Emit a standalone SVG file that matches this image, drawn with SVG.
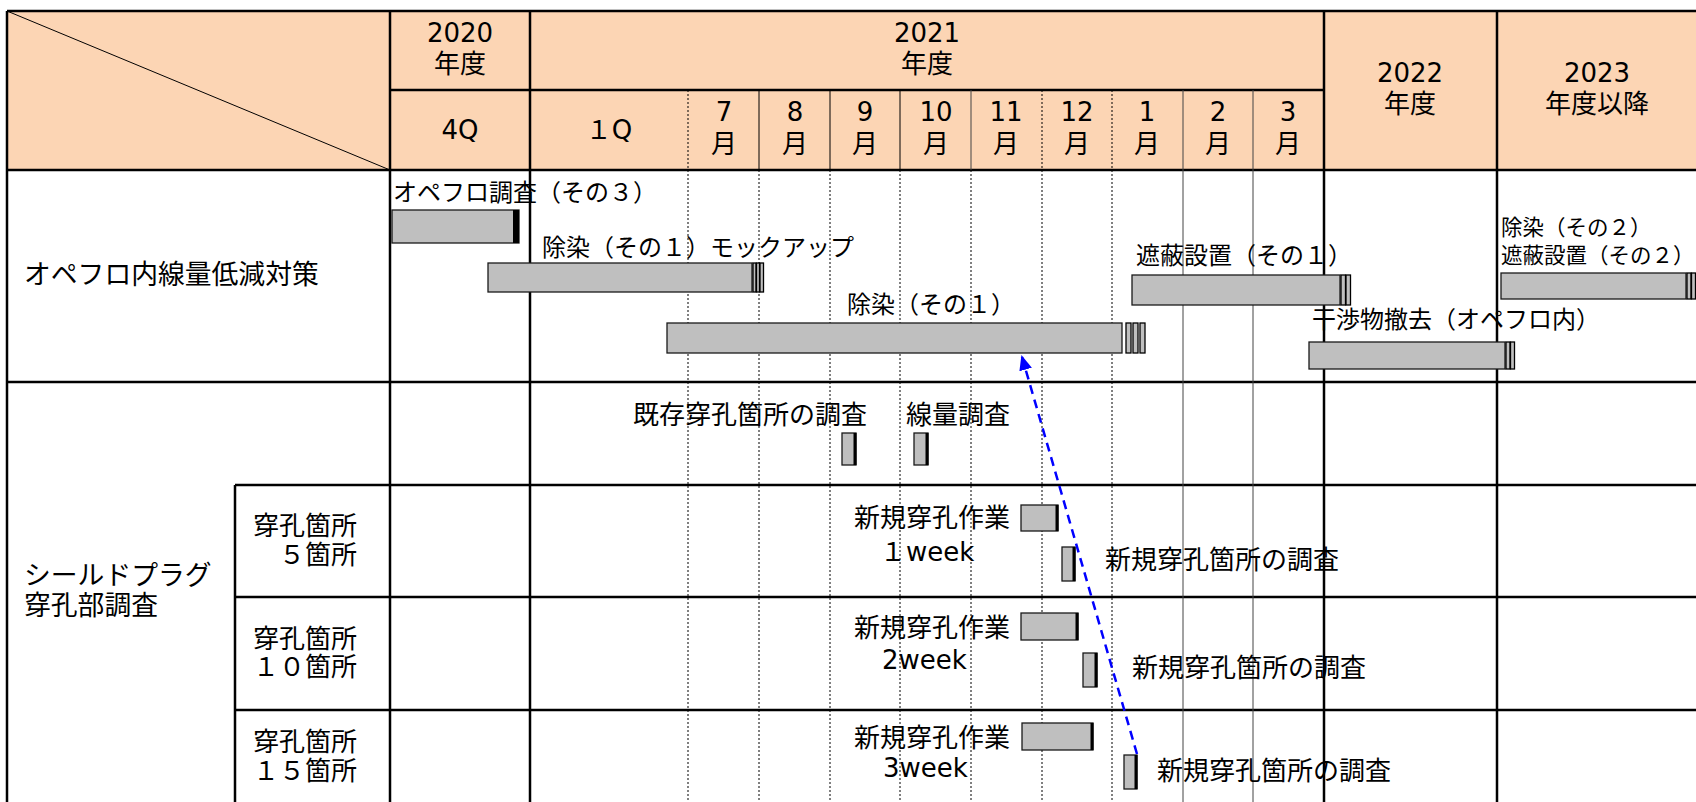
<svg xmlns="http://www.w3.org/2000/svg" width="1696" height="802" viewBox="0 0 1696 802">
<defs>
<style>
text { font-family: "DejaVu Sans", "Noto Sans CJK JP", sans-serif; fill: #000; dominant-baseline: central; }
.t22 { font-size: 21.5px; }
.t24 { font-size: 24px; }
.t26 { font-size: 26px; }
.t27 { font-size: 26.8px; }
.mid { text-anchor: middle; }
.thick { stroke: #000; stroke-width: 2.5; fill: none; }
.thin { stroke: #000; stroke-width: 1; fill: none; }
.gray { stroke: #444; stroke-width: 1; fill: none; }
.dot { stroke: #000; stroke-width: 1; stroke-dasharray: 2 2; fill: none; }
.bar { fill: #BFBFBF; stroke: #1a1a1a; stroke-width: 1.3; }
.cap { fill: #000; }
.stripe { fill: #BFBFBF; stroke: #000; stroke-width: 1.3; }
.edge { stroke: #000; stroke-width: 3; }
.conn { stroke: #0000FF; stroke-width: 2.5; stroke-dasharray: 9 6; fill: none; }
</style>
<marker id="ah" markerWidth="15" markerHeight="13" refX="13" refY="6.5" orient="auto" markerUnits="userSpaceOnUse">
<path d="M0,0 L15,6.5 L0,13 z" fill="#0000FF"/>
</marker>
</defs>

<rect id="header-bg" x="7" y="11" width="1692" height="159" fill="#FCD5B4"/>

<g id="grid">
<line class="thin" x1="7" y1="11" x2="390" y2="170"/>
<line class="thick" x1="7" y1="11" x2="1699" y2="11"/>
<line class="thick" x1="390" y1="90" x2="1324" y2="90"/>
<line class="thick" x1="7" y1="170" x2="1699" y2="170"/>
<line class="thick" x1="7" y1="382" x2="1699" y2="382"/>
<line class="thick" x1="235" y1="485" x2="1699" y2="485"/>
<line class="thick" x1="235" y1="597" x2="1699" y2="597"/>
<line class="thick" x1="235" y1="710" x2="1699" y2="710"/>
<line class="thick" x1="7" y1="11" x2="7" y2="802"/>
<line class="thick" x1="235" y1="485" x2="235" y2="802"/>
<line class="thick" x1="390" y1="11" x2="390" y2="802"/>
<line class="thick" x1="530" y1="11" x2="530" y2="802"/>
<line class="thick" x1="1324" y1="11" x2="1324" y2="802"/>
<line class="thick" x1="1497" y1="11" x2="1497" y2="802"/>
<line class="dot" x1="688" y1="90" x2="688" y2="802"/>
<line class="thin" x1="759" y1="90" x2="759" y2="170"/>
<line class="dot" x1="759" y1="170" x2="759" y2="802"/>
<line class="thin" x1="830" y1="90" x2="830" y2="170"/>
<line class="dot" x1="830" y1="170" x2="830" y2="802"/>
<line class="thin" x1="900" y1="90" x2="900" y2="170"/>
<line class="dot" x1="900" y1="170" x2="900" y2="802"/>
<line class="gray" x1="971" y1="90" x2="971" y2="170"/>
<line class="dot" x1="971" y1="170" x2="971" y2="802"/>
<line class="dot" x1="1042" y1="90" x2="1042" y2="802"/>
<line class="dot" x1="1112" y1="90" x2="1112" y2="802"/>
<line class="gray" x1="1183" y1="90" x2="1183" y2="802"/>
<line class="gray" x1="1253" y1="90" x2="1253" y2="802"/>
</g>

<g id="header-text">
<text class="t26 mid" x="460" y="33">2020</text>
<text class="t26 mid" x="460" y="64">年度</text>
<text class="t26 mid" x="460" y="130">4Q</text>
<text class="t26 mid" x="927" y="33">2021</text>
<text class="t26 mid" x="927" y="64">年度</text>
<text class="t26 mid" x="609" y="130">１Q</text>
<text class="t26 mid" x="724" y="112">7</text><text class="t26 mid" x="724" y="144">月</text>
<text class="t26 mid" x="795" y="112">8</text><text class="t26 mid" x="795" y="144">月</text>
<text class="t26 mid" x="865" y="112">9</text><text class="t26 mid" x="865" y="144">月</text>
<text class="t26 mid" x="936" y="112">10</text><text class="t26 mid" x="936" y="144">月</text>
<text class="t26 mid" x="1006" y="112">11</text><text class="t26 mid" x="1006" y="144">月</text>
<text class="t26 mid" x="1077" y="112">12</text><text class="t26 mid" x="1077" y="144">月</text>
<text class="t26 mid" x="1147" y="112">1</text><text class="t26 mid" x="1147" y="144">月</text>
<text class="t26 mid" x="1218" y="112">2</text><text class="t26 mid" x="1218" y="144">月</text>
<text class="t26 mid" x="1288" y="112">3</text><text class="t26 mid" x="1288" y="144">月</text>
<text class="t26 mid" x="1410" y="73">2022</text>
<text class="t26 mid" x="1410" y="104">年度</text>
<text class="t26 mid" x="1597" y="73">2023</text>
<text class="t26 mid" x="1597" y="104">年度以降</text>
</g>

<g id="row-labels">
<text class="t27" x="24" y="274">オペフロ内線量低減対策</text>
<text class="t27" x="24" y="575">シールドプラグ</text>
<text class="t27" x="24" y="605">穿孔部調査</text>
<text class="t26" x="253" y="526">穿孔箇所</text>
<text class="t26" x="279" y="555">５箇所</text>
<text class="t26" x="253" y="639">穿孔箇所</text>
<text class="t26" x="253" y="667">１０箇所</text>
<text class="t26" x="253" y="742">穿孔箇所</text>
<text class="t26" x="253" y="771">１５箇所</text>
</g>

<g id="task-opefuro-survey3">
<text class="t24" x="393" y="193">オペフロ調査（その３）</text>
<rect class="bar" x="392" y="210" width="127" height="33"/>
<rect class="cap" x="513" y="210" width="6" height="33"/>
</g>

<g id="task-decon1-mockup">
<text class="t24" x="542" y="248">除染（その１）モックアップ</text>
<rect class="bar" x="488" y="263" width="264" height="29"/>
<rect class="stripe" x="753" y="263" width="3" height="29"/>
<rect class="stripe" x="756.5" y="263" width="3" height="29"/>
<rect class="stripe" x="760" y="263" width="3.5" height="29"/>
</g>

<g id="task-decon1">
<text class="t24" x="847" y="305">除染（その１）</text>
<rect class="bar" x="667" y="323" width="455" height="30"/>
<rect class="stripe" x="1126" y="323" width="5" height="30"/>
<rect class="stripe" x="1133" y="323" width="5" height="30"/>
<rect class="stripe" x="1140" y="323" width="5" height="30"/>
</g>

<g id="task-shield1">
<text class="t24" x="1136" y="256">遮蔽設置（その１）</text>
<rect class="bar" x="1132" y="275" width="208" height="30"/>
<rect class="stripe" x="1341" y="275" width="4.5" height="30" stroke-width="2"/>
<rect class="stripe" x="1346" y="275" width="4.5" height="30" stroke-width="2"/>
</g>

<g id="task-interference-removal">
<text class="t24" x="1312" y="320">干渉物撤去（オペフロ内）</text>
<rect class="bar" x="1309" y="342" width="196" height="27"/>
<rect class="stripe" x="1506" y="342" width="4" height="27" stroke-width="2"/>
<rect class="stripe" x="1510.5" y="342" width="4" height="27" stroke-width="2"/>
</g>

<g id="task-decon2-shield2">
<text class="t22" x="1501" y="227">除染（その２）</text>
<text class="t22" x="1501" y="255">遮蔽設置（その２）</text>
<rect class="bar" x="1501" y="273" width="185" height="26"/>
<rect class="stripe" x="1687" y="273" width="4" height="26" stroke-width="2"/>
<rect class="stripe" x="1691.5" y="273" width="4" height="26" stroke-width="2"/>
</g>

<g id="task-existing-hole-survey">
<text class="t26" x="633" y="415">既存穿孔箇所の調査</text>
<rect class="bar" x="842" y="433" width="14" height="32"/>
<line class="edge" x1="855" y1="433" x2="855" y2="465"/>
</g>

<g id="task-dose-survey">
<text class="t26" x="906" y="415">線量調査</text>
<rect class="bar" x="914" y="433" width="14" height="32"/>
<line class="edge" x1="927" y1="433" x2="927" y2="465"/>
</g>

<g id="task-drill-5">
<text class="t26" x="854" y="518">新規穿孔作業</text>
<text class="t26" x="880" y="552">１week</text>
<rect class="bar" x="1021" y="505" width="37" height="26"/>
<line class="edge" x1="1057" y1="505" x2="1057" y2="531"/>
</g>
<g id="task-newhole-survey-5">
<rect class="bar" x="1062" y="547" width="13" height="34"/>
<line class="edge" x1="1074" y1="547" x2="1074" y2="581"/>
<text class="t26" x="1105" y="560">新規穿孔箇所の調査</text>
</g>

<g id="task-drill-10">
<text class="t26" x="854" y="628">新規穿孔作業</text>
<text class="t26" x="882" y="660">2week</text>
<rect class="bar" x="1021" y="613" width="57" height="27"/>
<line class="edge" x1="1077" y1="613" x2="1077" y2="640"/>
</g>
<g id="task-newhole-survey-10">
<rect class="bar" x="1083" y="653" width="14" height="34"/>
<line class="edge" x1="1096" y1="653" x2="1096" y2="687"/>
<text class="t26" x="1132" y="668">新規穿孔箇所の調査</text>
</g>

<g id="task-drill-15">
<text class="t26" x="854" y="738">新規穿孔作業</text>
<text class="t26" x="883" y="768">3week</text>
<rect class="bar" x="1022" y="723" width="71" height="27"/>
<line class="edge" x1="1092" y1="723" x2="1092" y2="750"/>
</g>
<g id="task-newhole-survey-15">
<rect class="bar" x="1124" y="755" width="13" height="34"/>
<line class="edge" x1="1136" y1="755" x2="1136" y2="789"/>
<text class="t26" x="1157" y="771">新規穿孔箇所の調査</text>
</g>

<g id="connectors">
<line class="conn" x1="1137" y1="754" x2="1022" y2="357" marker-end="url(#ah)"/>
</g>
</svg>
